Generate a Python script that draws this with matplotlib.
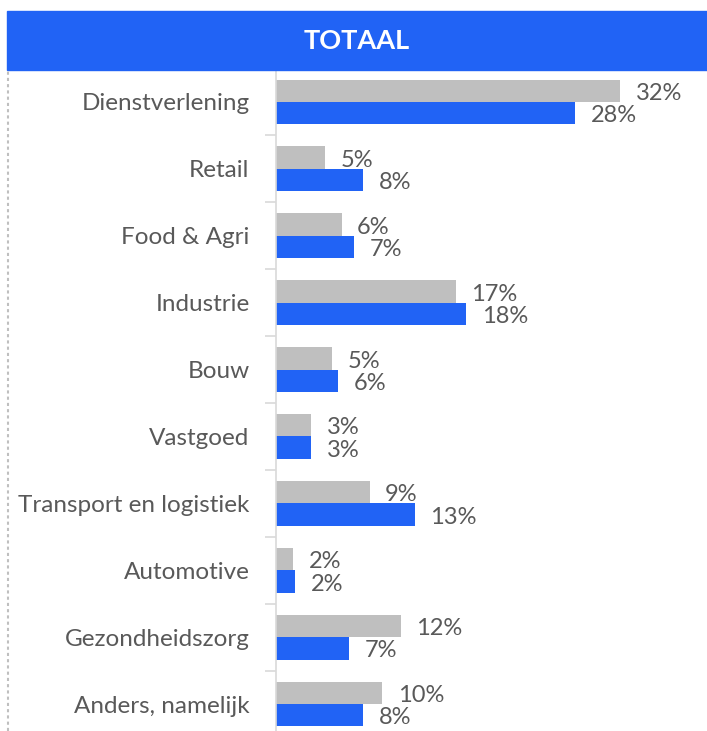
import matplotlib.pyplot as plt
from matplotlib.patches import Rectangle
from matplotlib.lines import Line2D

plt.rcParams['font.family'] = ['Lato', 'DejaVu Sans']

categories = ["Dienstverlening", "Retail", "Food & Agri", "Industrie", "Bouw",
              "Vastgoed", "Transport en logistiek", "Automotive",
              "Gezondheidszorg", "Anders, namelijk"]
grijs = [32.0, 4.6, 6.1, 16.7, 5.2, 3.3, 8.7, 1.6, 11.6, 9.9]
blauw = [27.8, 8.1, 7.3, 17.7, 5.8, 3.3, 12.9, 1.8, 6.8, 8.1]

BLUE = "#2163F5"
GREY = "#BFBFBF"
TEXT = "#595959"

W, H = 707, 731
fig = plt.figure(figsize=(W / 100, H / 100), dpi=100)

# titelbalk
fig.patches.append(Rectangle((7 / W, 1 - 70 / H), 1 - 7 / W, 59 / H,
                             transform=fig.transFigure, color=BLUE, zorder=0))
fig.text((7 + W) / 2 / W, 1 - 41 / H, "TOTAAL", color="white",
         fontsize=19.5, fontweight="bold", ha="center", va="center")

# gestippelde rand links
fig.lines.append(Line2D([8 / W, 8 / W], [0, 1 - 70 / H], transform=fig.transFigure,
                        color="#BFBFBF", lw=1.5, ls=(0, (1.5, 1.5))))

ax = fig.add_axes([276 / W, 0, 1 - 276 / W, 1 - 70 / H])
h = 0.335
y = list(range(len(categories)))
ax.barh([i - h / 2 for i in y], grijs, height=h, color=GREY)
ax.barh([i + h / 2 for i in y], blauw, height=h, color=BLUE)

for i in y:
    ax.text(grijs[i] + 1.45, i - h / 2 + 0.04, f"{grijs[i]:.0f}%",
            va="center", ha="left", fontsize=17, color=TEXT)
    ax.text(blauw[i] + 1.45, i + h / 2 + 0.04, f"{blauw[i]:.0f}%",
            va="center", ha="left", fontsize=17, color=TEXT)

ax.set_xlim(0, (W - 276) / 10.75)
ax.set_ylim(9 + 27 / 66.9, -32 / 66.9)
ax.set_yticks(y)
ax.set_yticklabels(categories, fontsize=17.5, color=TEXT)
ax.tick_params(axis="y", length=0, pad=19)
ax.set_yticks([i + 0.5 for i in y[:-1]], minor=True)
ax.tick_params(axis="y", which="minor", length=8, color="#D9D9D9", width=1.2)
ax.set_xticks([])
for s in ["top", "right", "bottom"]:
    ax.spines[s].set_visible(False)
ax.spines["left"].set_color("#D9D9D9")
ax.spines["left"].set_linewidth(1.2)

fig.savefig("out.png", dpi=100)
